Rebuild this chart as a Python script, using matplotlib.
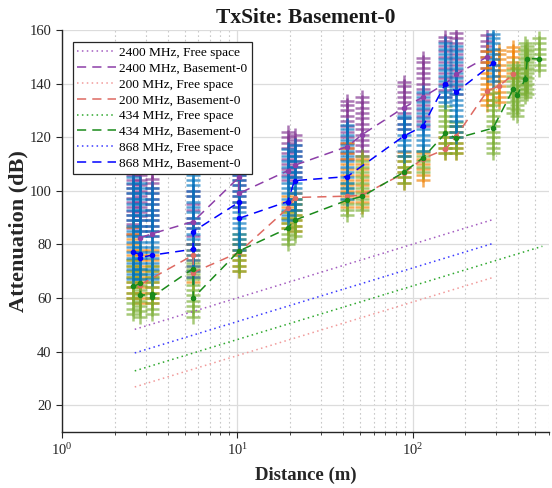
import matplotlib
matplotlib.use('Agg')
import matplotlib.pyplot as plt
from matplotlib.ticker import LogLocator, NullFormatter, LogFormatterMathtext, FixedLocator

plt.rcParams['font.family'] = ['Liberation Serif', 'DejaVu Serif']
plt.rcParams['mathtext.fontset'] = 'stix'

# ---------------- data ----------------
FREQS = ['2400 MHz', '200 MHz', '434 MHz', '868 MHz']

# measured attenuation samples (dB) per measurement distance (m)
D2400 = [2.55, 2.8, 3.27, 5.6, 10.2, 19.4, 21.2, 42.4, 51.6, 89, 114.5, 154, 178, 267]
V2400 = [
    [84, 86, 87.5, 89, 91, 92.5, 94, 96, 97.5, 99, 101, 102.5, 104, 106, 108],
    [85, 87, 89, 90.5, 92, 94, 96, 98, 100, 102, 104, 106],
    [83, 85, 87, 89, 91, 93, 95, 97, 99, 101, 103, 104.5, 107],
    [80, 83, 86, 88, 90, 93, 95, 98, 100],
    [94, 96, 98, 100, 102, 104, 106, 108, 110],
    [104, 106, 108, 110, 112, 114, 116, 118, 120, 122],
    [105, 107, 109, 111, 113, 115, 117, 119, 121],
    [112, 114, 116, 118, 120, 122, 124, 126, 128, 130, 132, 133.5],
    [113, 115, 117, 119, 121, 123, 125, 127, 129, 131, 133, 135],
    [123, 125, 127, 129, 131, 133, 135, 137, 139, 140.5],
    [124, 126, 128, 130, 132, 134, 136, 138, 140, 142, 144, 146, 148, 149.5],
    [135, 137.5, 140, 142, 144, 146, 148, 150, 152, 154, 156, 157.5],
    [136, 139, 141, 143, 145, 147, 149, 151, 153, 155, 157, 159],
    [146, 148, 150, 152, 154, 156, 158],
]

D200 = [2.55, 2.8, 3.27, 5.6, 10.2, 19.4, 21.2, 42.4, 51.6, 89, 114.5, 154, 178, 267, 311, 376]
V200 = [
    [60, 62, 64, 66, 68, 70, 72, 74, 76, 78, 80, 82, 84, 86.5],
    [58, 60, 62, 64, 66, 68, 70, 72, 74, 76, 78],
    [58, 60, 62, 64, 66, 68, 70, 72, 74, 76, 78],
    [66, 68, 70, 72, 74, 76, 78, 80],
    [70, 72, 74, 76, 78, 80],
    [86, 88, 90, 92, 94, 96, 98],
    [85, 87, 89, 91, 93, 95, 97, 99],
    [94, 96, 98, 100, 102, 104, 106, 108, 110, 112, 114, 116, 118],
    [94, 96, 98, 100, 102, 104, 106, 108, 110, 112],
    [103, 105, 107, 109, 111, 113, 114.5],
    [104, 106, 108, 110, 112, 114],
    [114, 116, 118, 120],
    [114, 116, 118, 120, 122, 124],
    [132, 134, 136, 138, 140, 142, 144, 146, 148, 150, 152],
    [133, 135, 137, 139, 141, 143, 145, 147, 149, 151, 152.5],
    [142, 144, 146, 148, 150, 152, 153.5],
]

D434 = [2.55, 2.8, 3.27, 5.6, 10.2, 19.4, 21.2, 42.4, 51.6, 89, 114.5, 154, 178, 288, 376, 396, 438, 452, 527]
V434 = [
    [54, 56, 58, 60, 62, 64, 66, 68, 70, 72, 74],
    [53, 55, 57, 59, 61, 63, 65, 67, 69, 71],
    [54, 56, 58, 60, 62, 64, 66, 68, 70, 72],
    [53, 55, 57, 59, 61, 63, 65, 67, 69, 71, 73],
    [70, 72, 74, 76, 78, 80, 82, 84],
    [80, 82, 84, 86, 88, 90, 92],
    [83, 85, 87, 89, 91, 93, 95, 97],
    [91, 93, 95, 97, 99, 101, 103],
    [93, 95, 97, 99, 101, 103, 105, 107, 109, 111, 113],
    [103, 105, 107, 109, 111, 113],
    [107, 109, 111, 113, 115],
    [114, 116, 118, 120, 122, 124, 126, 128, 130, 131.5],
    [114, 116, 118, 120, 122, 124, 125.5],
    [114, 116, 118, 120, 122, 124, 126, 128, 130, 132, 134, 136.5],
    [129, 131, 133, 135, 137, 139, 141, 143, 145, 147],
    [128, 130, 132, 134, 136, 138, 140, 142, 144, 146],
    [135, 137, 139, 141, 143, 145, 147, 149, 151, 153, 155],
    [136, 138, 140, 142, 144, 146, 148, 150, 152, 154],
    [145, 147, 149, 151, 153, 155, 157],
]

D868 = [2.55, 2.8, 3.27, 5.6, 10.2, 19.4, 21.2, 42.4, 89, 114.5, 154, 178, 288]
V868 = [
    [67, 69, 71, 73, 75, 77, 79, 81, 83, 85, 87, 89, 91, 93, 95, 97, 99, 101, 103, 105],
    [67, 69, 71, 73, 75, 77, 79, 81, 83, 85, 87, 89, 91, 93, 95, 97, 99, 101, 103],
    [67, 69, 71, 73, 75, 77, 79, 81, 83, 85, 87, 89, 91, 93, 95, 97, 99, 101],
    [68, 70, 72, 74, 76, 78, 80, 82, 84, 86, 88, 90, 92, 94, 96, 98, 100, 102, 104, 106],
    [78, 80, 82, 84, 86, 88, 90, 92, 94, 96, 98, 100, 102, 104, 106, 108, 110.5],
    [89, 91, 93, 95, 97, 99, 101, 103, 105, 107, 109, 111, 113, 115.5],
    [93, 95, 97, 99, 101, 103, 105, 107, 109, 111, 113, 115, 117],
    [97, 99, 101, 103, 105, 107, 109, 111, 113, 115, 117, 119, 121, 123, 124.5],
    [113, 115, 117, 119, 121, 123, 125, 127, 128],
    [115, 117, 119, 121, 123, 125, 127, 129, 131, 133, 135, 137],
    [133, 135, 137, 139, 141, 143, 145, 147, 149, 151, 153, 155],
    [120, 122, 124, 126, 128, 130, 132, 134, 136, 138, 140, 142, 144, 146, 148, 150, 152, 154],
    [141, 143, 145, 147, 149, 151, 153, 155, 157, 158.5],
]

# mean attenuation per location (Basement-0)
M2400_D = [2.8, 3.27, 5.6, 10.2, 10.2, 19.4, 21.2, 42.4, 51.6, 89, 114.5, 154, 178, 267]
M2400_V = [82.5, 84, 88.5, 105, 99, 107.5, 109.5, 116.5, 121, 131, 135, 140, 143.5, 150]
M200_D = [2.8, 5.6, 5.6, 10.2, 19.4, 21.2, 42.4, 51.6, 89, 114.5, 154, 178, 267, 311, 376]
M200_V = [65, 76, 69.5, 77, 93.5, 97.5, 98.0, 98.4, 106.5, 112, 115.5, 120.5, 137.3, 139.1, 143.5]
M434_D = [2.55, 2.8, 2.8, 3.27, 3.27, 5.6, 5.6, 10.2, 19.4, 21.2, 42.4, 51.6, 89, 114.5,
          154, 178, 288, 376, 396, 438, 452, 527]
M434_V = [64.3, 65.5, 61, 61.5, 60.5, 71, 60, 77.5, 86, 89, 96.5, 97.9, 106.9, 112.3,
          121.5, 119.6, 123.4, 138.1, 135.8, 141.6, 149.3, 149.3]
M868_D = [2.55, 2.8, 2.8, 3.27, 5.6, 5.6, 10.2, 10.2, 19.4, 21.2, 42.4, 89, 114.5, 154, 178, 288]
M868_V = [77.0, 76.3, 75.1, 76.0, 78.2, 84.8, 95.7, 89.7, 96.0, 103.8, 105.3, 120.4, 124.1, 140.0, 136.9, 147.6]

# free-space reference lines (end points)
FS2400_D = [2.6, 292]
FS2400_V = [48.3, 89.4]
FS200_D = [2.6, 292]
FS200_V = [26.8, 67.8]
FS434_D = [2.6, 550]
FS434_V = [32.8, 79.3]
FS868_D = [2.6, 292]
FS868_V = [39.5, 80.5]

YTICKS = [20, 40, 60, 80, 100, 120, 140, 160]

# ---------------- styles ----------------
SC_COL = ['#7E2F8E', '#F08000', '#77AC30', '#0072BD']
MEAN_COL = ['#8D3FA8', '#DE6A62', '#1A8A1A', '#0000FF']
FS_COL = ['#A35BC0', '#F19A9A', '#2DA82D', '#3A3AFF']

fig = plt.figure(figsize=(5.52, 4.88), dpi=100)
ax = fig.add_axes([62 / 552, 1 - 432 / 488, (549 - 62) / 552, (432 - 30) / 488])
ax.set_xscale('log')

for dd, vv, col in [(D2400, V2400, SC_COL[0]), (D200, V200, SC_COL[1]),
                    (D434, V434, SC_COL[2]), (D868, V868, SC_COL[3])]:
    for d, vals in zip(dd, vv):
        ax.plot([d] * len(vals), vals, linestyle='none', marker='+', ms=10.5, mew=1.8,
                color=col, alpha=0.65, zorder=2)

fs = [(FS2400_D, FS2400_V), (FS200_D, FS200_V), (FS434_D, FS434_V), (FS868_D, FS868_V)]
mn = [(M2400_D, M2400_V), (M200_D, M200_V), (M434_D, M434_V), (M868_D, M868_V)]
for i, f in enumerate(FREQS):
    ax.plot(fs[i][0], fs[i][1], color=FS_COL[i], lw=1.1, dashes=(1, 2.2), zorder=3,
            label=f + ', Free space')
    ax.plot(mn[i][0], mn[i][1], color=MEAN_COL[i], lw=1.1, dashes=(6, 4), zorder=4,
            label=f + ', Basement-0')
    ax.plot(mn[i][0], mn[i][1], linestyle='none', marker='.', ms=6, color=MEAN_COL[i], zorder=4)

ax.set_xlim(1, 600)
ax.set_ylim(10, 160)
ax.yaxis.set_major_locator(FixedLocator(YTICKS))
ax.xaxis.set_major_locator(LogLocator(base=10, numticks=10))
ax.xaxis.set_major_formatter(LogFormatterMathtext())
ax.xaxis.set_minor_locator(LogLocator(base=10, subs=range(2, 10), numticks=20))
ax.xaxis.set_minor_formatter(NullFormatter())

ax.grid(True, which='major', color='#dcdcdc', lw=0.9, ls='-', zorder=0)
ax.grid(True, which='minor', axis='x', color='#c8c8c8', lw=0.8, ls=(0, (1.5, 2.5)), zorder=0)
ax.set_axisbelow(True)

for s in ['top', 'right']:
    ax.spines[s].set_visible(False)
for s in ['left', 'bottom']:
    ax.spines[s].set_color('#262626')
    ax.spines[s].set_linewidth(1.0)
ax.tick_params(which='major', direction='out', length=4, width=0.8, colors='#262626',
               labelsize=10.5, labelcolor='#262626')
ax.tick_params(which='minor', direction='out', length=2, width=0.6, colors='#262626')

ax.set_title('TxSite: Basement-0', fontsize=15.5, fontweight='bold', color='#1a1a1a', pad=5)
ax.set_xlabel('Distance (m)', fontsize=13.5, fontweight='bold', color='#262626', labelpad=6)
ax.set_ylabel('Attenuation (dB)', fontsize=16, fontweight='bold', color='#262626', labelpad=1)

leg = ax.legend(loc='upper left', bbox_to_anchor=(0.022, 0.97), fontsize=9.6, frameon=True,
                fancybox=False, framealpha=1, edgecolor='#262626', handlelength=2.9,
                handletextpad=0.2, labelspacing=0.26, borderpad=0.35, borderaxespad=0)
leg.get_frame().set_linewidth(0.9)
leg.set_zorder(10)

fig.savefig('out.png', dpi=100)
